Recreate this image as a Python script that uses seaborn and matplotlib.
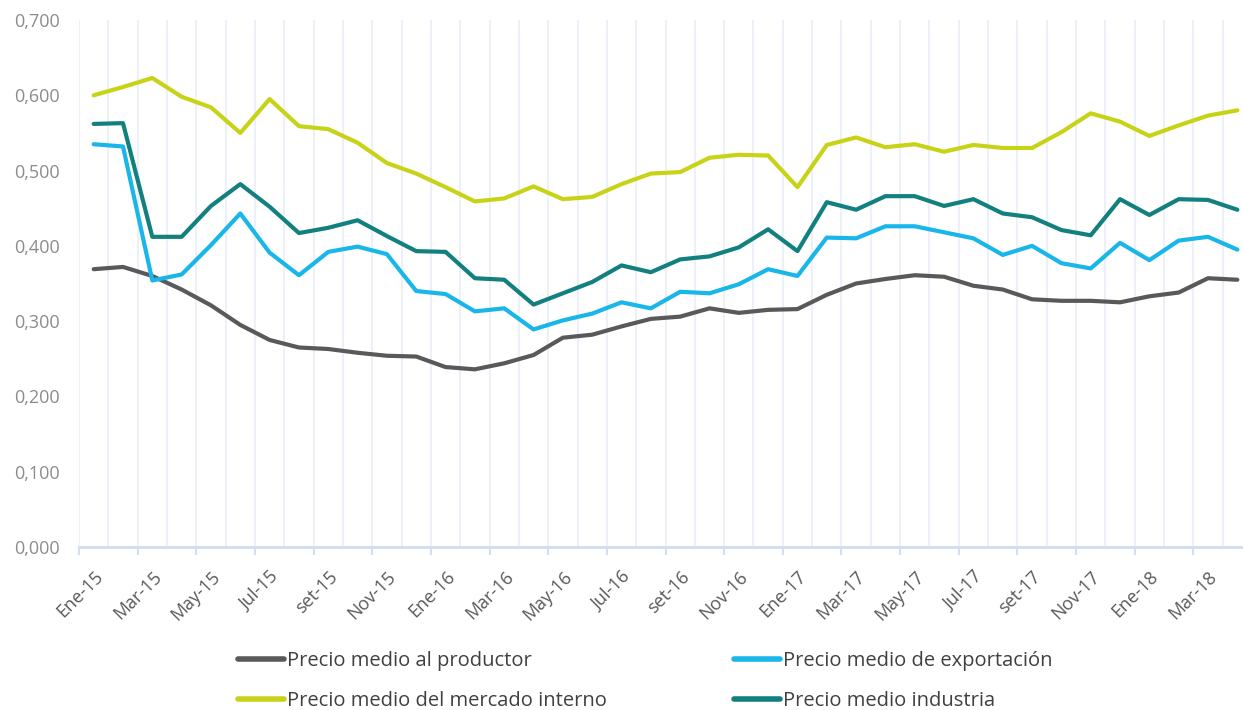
import pandas as pd
import matplotlib.pyplot as plt
import matplotlib.ticker as mticker
import seaborn as sns
import numpy as np

# meses Ene-15 .. Abr-18
meses = ['Ene', 'Feb', 'Mar', 'Abr', 'May', 'Jun', 'Jul', 'Ago', 'set', 'Oct', 'Nov', 'Dic']
periodos = [f'{m}-{a}' for a in ['15', '16', '17', '18'] for m in meses][:40]

productor = [0.369, 0.372, 0.360, 0.342, 0.321, 0.295, 0.275, 0.265, 0.263, 0.258,
             0.254, 0.253, 0.239, 0.236, 0.244, 0.255, 0.278, 0.282, 0.293, 0.303,
             0.306, 0.317, 0.311, 0.315, 0.316, 0.335, 0.350, 0.356, 0.361, 0.359,
             0.347, 0.342, 0.329, 0.327, 0.327, 0.325, 0.333, 0.338, 0.357, 0.355]
exportacion = [0.535, 0.532, 0.354, 0.362, 0.401, 0.443, 0.391, 0.361, 0.392, 0.399,
               0.389, 0.340, 0.336, 0.313, 0.317, 0.289, 0.301, 0.310, 0.325, 0.317,
               0.339, 0.337, 0.349, 0.369, 0.360, 0.411, 0.410, 0.426, 0.426, 0.418,
               0.410, 0.388, 0.400, 0.377, 0.370, 0.404, 0.381, 0.407, 0.412, 0.395]
mercado = [0.600, 0.611, 0.623, 0.598, 0.584, 0.550, 0.595, 0.559, 0.555, 0.537,
           0.510, 0.496, 0.478, 0.459, 0.463, 0.479, 0.462, 0.465, 0.482, 0.496,
           0.498, 0.517, 0.521, 0.520, 0.478, 0.534, 0.544, 0.531, 0.535, 0.525,
           0.534, 0.530, 0.530, 0.551, 0.576, 0.565, 0.546, 0.560, 0.573, 0.580]
industria = [0.562, 0.563, 0.412, 0.412, 0.453, 0.482, 0.452, 0.417, 0.424, 0.434,
             0.413, 0.393, 0.392, 0.357, 0.355, 0.322, 0.337, 0.352, 0.374, 0.365,
             0.382, 0.386, 0.398, 0.422, 0.393, 0.458, 0.448, 0.466, 0.466, 0.453,
             0.462, 0.443, 0.438, 0.421, 0.414, 0.462, 0.441, 0.462, 0.461, 0.448]

series = {
    'Precio medio al productor': productor,
    'Precio medio del mercado interno': mercado,
    'Precio medio de exportación': exportacion,
    'Precio medio industria': industria,
}
colores = ['#595959', '#C8D317', '#19B6E9', '#12807F']

df = pd.concat([pd.DataFrame({'x': np.arange(len(periodos)), 'valor': v, 'serie': k})
                for k, v in series.items()])

sns.set_theme(style='white')
plt.rcParams['font.family'] = ['Open Sans', 'DejaVu Sans']

fig = plt.figure(figsize=(12.43, 7.10), dpi=100)
ax = fig.add_axes([79 / 1243, 1 - 547 / 710, (1252 - 79) / 1243, (547 - 20) / 710])

sns.lineplot(data=df, x='x', y='valor', hue='serie', palette=colores, linewidth=3,
             sort=False, ax=ax, legend=True)

ax.set_xlim(-0.5, 39.5)
ax.set_ylim(0, 0.7)
ax.set_xlabel('')
ax.set_ylabel('')

# eje y
ax.set_yticks(np.arange(0, 0.71, 0.1))
ax.yaxis.set_major_formatter(mticker.FuncFormatter(lambda v, p: f'{v:.3f}'.replace('.', ',')))
ax.tick_params(axis='y', length=0, pad=14, labelsize=13, labelcolor='#8C8C8C')

# eje x: etiquetas cada 2 meses, grilla en cada limite de categoria
ax.set_xticks(np.arange(0, 40, 2))
ax.set_xticklabels(periodos[::2], rotation=45, ha='right', rotation_mode='anchor')
ax.tick_params(axis='x', which='major', length=0, pad=15, labelsize=13, labelcolor='#595959')
ax.set_xticks(np.arange(-0.5, 40, 1), minor=True)
ax.tick_params(axis='x', which='minor', length=0)
ax.grid(False)
ax.grid(True, axis='x', which='minor', color='#EBF0F9', linewidth=1.5)

sec = ax.secondary_xaxis('bottom')
sec.set_xticks(np.arange(-0.5, 40, 2))
sec.tick_params(length=6, width=1.5, color='#D3DEF1', labelbottom=False)
sec.spines['bottom'].set_color('#D3DEF1')
sec.spines['bottom'].set_linewidth(2)

for s in ['top', 'right', 'left']:
    ax.spines[s].set_visible(False)
ax.spines['bottom'].set_color('#D3DEF1')
ax.spines['bottom'].set_linewidth(2)

handles, labels = ax.get_legend_handles_labels()
for h in handles:
    h.set_linewidth(4)
ax.get_legend().remove()
fig.legend(handles, labels, ncol=2, loc='center', bbox_to_anchor=(645 / 1243, 1 - 681 / 710),
           frameon=False, fontsize=14.5, handlelength=2.3, handletextpad=0.15,
           columnspacing=6.3, labelspacing=0.95, labelcolor='#404040')

fig.savefig('out.png', dpi=100)
